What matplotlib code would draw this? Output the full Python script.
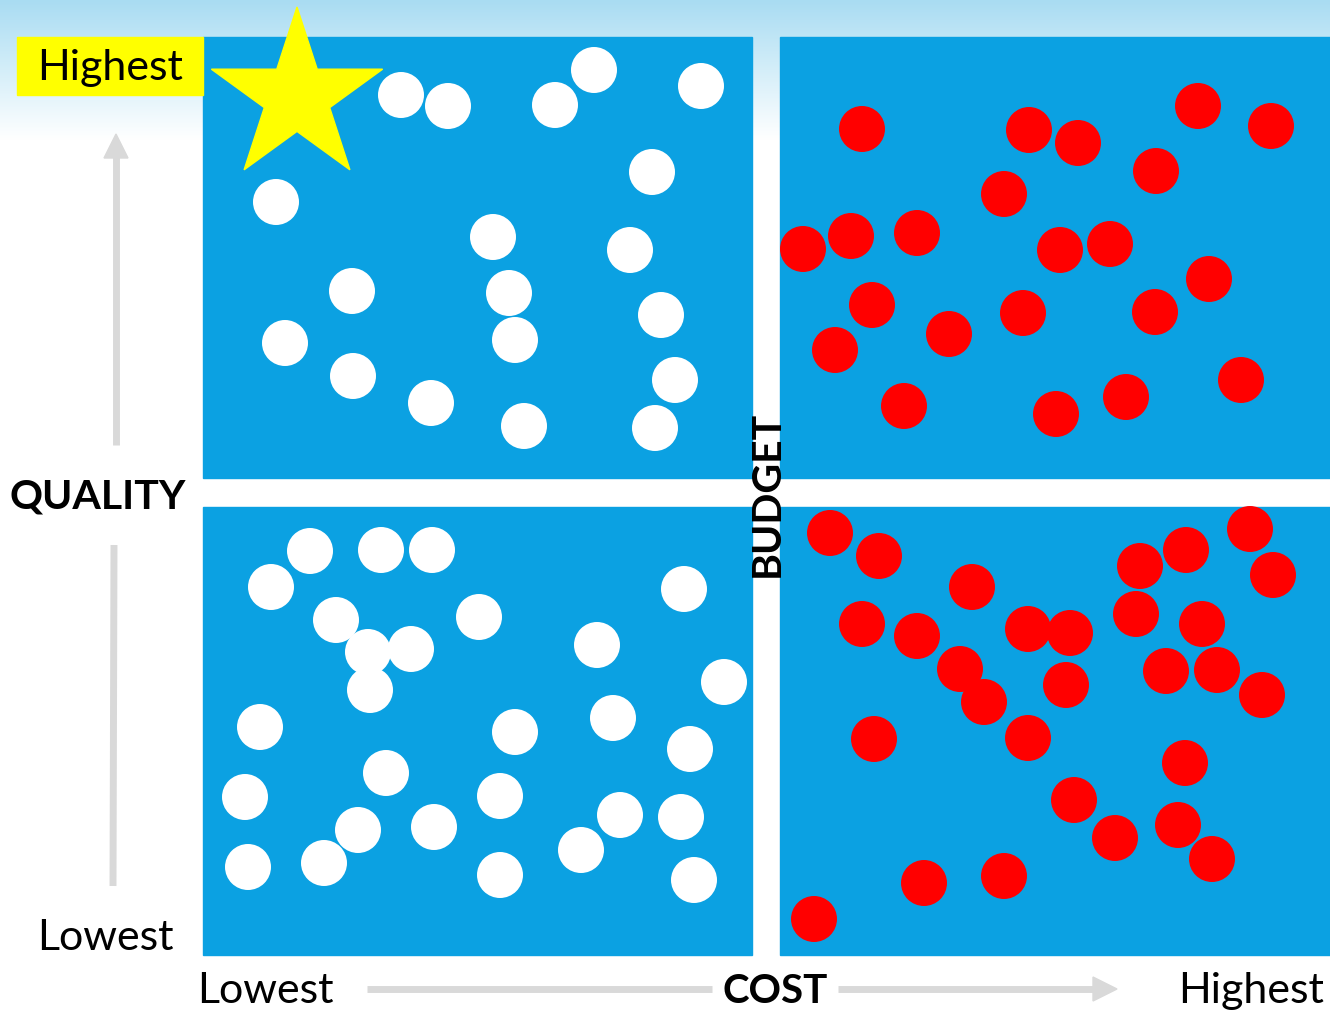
import numpy as np
import matplotlib.pyplot as plt
from matplotlib.patches import Rectangle, Polygon

plt.rcParams['font.family'] = ['Lato', 'DejaVu Sans']

# quadrant positions (cost, quality) in picture units: x to the right, y downward
top_left_x = [401, 448, 555, 594, 701, 652, 276, 493, 630, 352, 509, 661, 285, 515, 353, 675, 431, 524, 655]
top_left_y = [95, 106, 105, 70, 86, 172, 202, 237, 250, 291, 293, 315, 343, 340, 376, 380, 403, 426, 428]

top_right_x = [862, 1029, 1078, 1198, 1271, 1156, 1004, 803, 851, 917, 1060, 1110, 1209, 872, 949, 1023, 1155, 835, 904, 1056, 1126, 1241]
top_right_y = [129, 130, 143, 106, 126, 171, 194, 249, 236, 233, 250, 244, 279, 305, 334, 313, 312, 350, 406, 414, 397, 380]

bottom_left_x = [310, 381, 432, 271, 336, 479, 684, 368, 411, 597, 370, 724, 260, 515, 613, 690, 386, 245, 500, 358, 434, 620, 681, 248, 324, 581, 500, 694]
bottom_left_y = [551, 550, 550, 587, 620, 617, 589, 652, 649, 645, 690, 682, 727, 732, 718, 749, 773, 797, 796, 830, 827, 815, 817, 867, 863, 850, 875, 880]

bottom_right_x = [830, 879, 972, 1250, 1186, 1140, 1273, 862, 917, 1028, 1070, 1136, 1202, 960, 984, 1066, 1166, 1217, 1262, 874, 1028, 1185, 1074, 1115, 1178, 1212, 924, 1004, 814]
bottom_right_y = [533, 556, 587, 529, 550, 566, 575, 624, 636, 629, 633, 614, 624, 669, 702, 685, 671, 670, 695, 739, 738, 763, 800, 838, 825, 859, 883, 876, 919]

star_x, star_y = 297, 97

blue = '#0BA1E2'
grey = '#D9D9D9'

fig = plt.figure(figsize=(13.3, 10.13), dpi=100)
ax = fig.add_axes([0, 0, 1, 1])
ax.set_xlim(0, 1330)
ax.set_ylim(1013, 0)
ax.axis('off')

# light blue gradient at the top
grad = np.linspace(0, 1, 200).reshape(-1, 1)
cmap = plt.matplotlib.colors.LinearSegmentedColormap.from_list('g', ['#A9DCF2', '#D4EEF9', '#FFFFFF'])
ax.imshow(grad, extent=(0, 1330, 140, 0), cmap=cmap, aspect='auto', zorder=0)

# quadrants
for x0, y0, w, h in [(203, 37, 549, 441), (780, 37, 550, 441), (203, 507, 549, 448), (780, 507, 550, 448)]:
    ax.add_patch(Rectangle((x0, y0), w, h, color=blue, zorder=1))

dot = (46 * 72 / 100) ** 2
ax.scatter(top_left_x, top_left_y, s=dot, c='white', edgecolors='none', zorder=3)
ax.scatter(bottom_left_x, bottom_left_y, s=dot, c='white', edgecolors='none', zorder=3)
ax.scatter(top_right_x, top_right_y, s=dot, c='#FF0000', edgecolors='none', zorder=3)
ax.scatter(bottom_right_x, bottom_right_y, s=dot, c='#FF0000', edgecolors='none', zorder=3)

# star
R, r = 90, 90 * 0.382
ang = np.deg2rad(-90 + np.arange(10) * 36)
rad = np.where(np.arange(10) % 2 == 0, R, r)
ax.add_patch(Polygon(np.c_[star_x + rad * np.cos(ang), star_y + rad * np.sin(ang)],
                     closed=True, color='#FFFF00', zorder=4))

# label box
ax.add_patch(Rectangle((17, 37), 186, 58, color='#FFFF00', zorder=2))
ax.text(110, 68, 'Highest', fontsize=31, ha='center', va='center', zorder=5)

# axis arrows
ax.plot([116, 116], [445, 155], color=grey, lw=5, solid_capstyle='butt', zorder=2)
ax.add_patch(Polygon([[104, 158], [128, 158], [116, 134]], closed=True, color=grey, zorder=2))
ax.plot([114, 113], [545, 886], color=grey, lw=5, solid_capstyle='butt', zorder=2)
ax.plot([367, 712], [989, 989], color=grey, lw=5, solid_capstyle='butt', zorder=2)
ax.plot([838, 1095], [989, 989], color=grey, lw=5, solid_capstyle='butt', zorder=2)
ax.add_patch(Polygon([[1093, 977], [1093, 1001], [1117, 989]], closed=True, color=grey, zorder=2))

ax.text(98, 497, 'QUALITY', fontsize=29.5, fontweight='bold', ha='center', va='center')
ax.text(105, 938, 'Lowest', fontsize=31, ha='center', va='center')
ax.text(265, 991, 'Lowest', fontsize=31, ha='center', va='center')
ax.text(775, 991, 'COST', fontsize=29, fontweight='bold', ha='center', va='center')
ax.text(1251, 991, 'Highest', fontsize=31, ha='center', va='center')
ax.text(767, 494, 'BUDGET', fontsize=29.5, fontweight='bold', rotation=90, ha='center', va='center', zorder=5)

fig.savefig('out.png', dpi=100)
